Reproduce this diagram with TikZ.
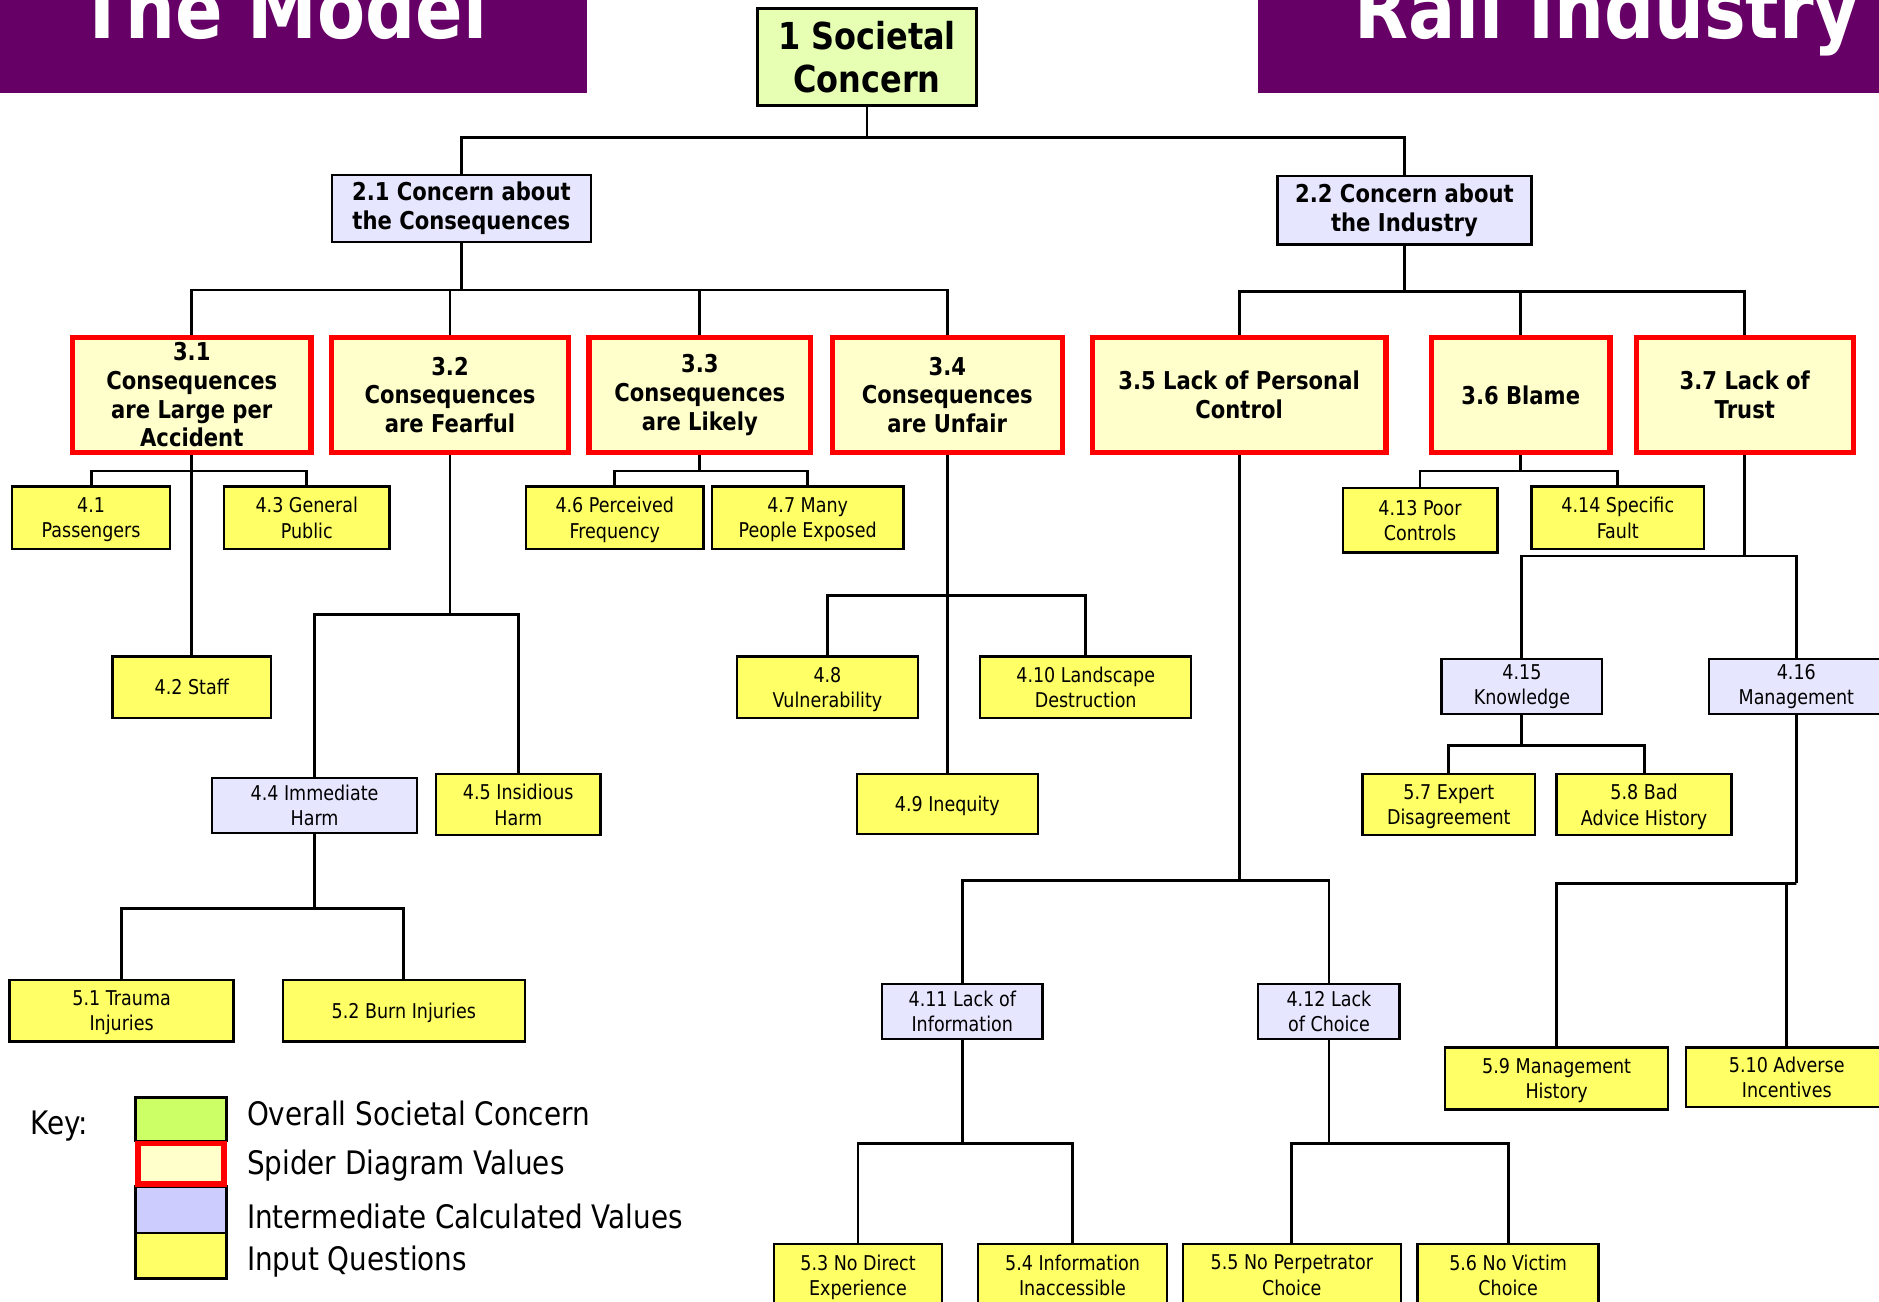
\documentclass[tikz,border=0pt]{standalone}
\usepackage{fontspec}
\setmainfont{DejaVu Sans}[FakeStretch=0.86]
\definecolor{ttl}{HTML}{660066}
\definecolor{topg}{HTML}{E6FFB3}
\definecolor{keyg}{HTML}{CCFF66}
\definecolor{lav}{HTML}{E6E6FF}
\definecolor{keylav}{HTML}{CCCCFF}
\definecolor{inyel}{HTML}{FFFF66}
\definecolor{spy}{HTML}{FFFFCC}
\pgfdeclarelayer{bg}
\pgfsetlayers{bg,main}
\tikzset{
 box/.style={draw=black, line width=2pt, inner sep=0pt, align=center, rectangle},
 inp/.style={box, fill=inyel, font=\fontsize{17}{21}\selectfont, text depth=0pt},
 mid/.style={box, fill=lav, font=\fontsize{17}{21}\selectfont},
 spider/.style={box, draw=red, line width=4.5pt, fill=spy, font=\bfseries\fontsize{20.5}{24}\selectfont},
 lvltwo/.style={box, fill=lav, font=\bfseries\fontsize{20.5}{24}\selectfont},
 topn/.style={box, fill=topg, font=\bfseries\fontsize{31}{36}\selectfont},
 conn/.style={line width=2.4pt, black},
 sz/.style 2 args={minimum width=#1pt, minimum height=#2pt},
 keytxt/.style={anchor=west, inner sep=0pt, font=\fontsize{27}{30}\selectfont},
 title/.style={anchor=base west, inner sep=0pt, text=white, font=\bfseries\fontsize{68}{70}\selectfont},
}
\begin{document}
\begin{tikzpicture}[x=1pt,y=-1pt]
\useasboundingbox (0,0) rectangle (1568,1086);
\clip (0,0) rectangle (1568,1086);
% title banners
\fill[ttl] (0,0) rectangle (490,78);
\fill[ttl] (1050,0) rectangle (1568,78);
\node[title] (t1) at (65,32) {The Model};
\node[title] (t2) at (1130,32) {Rail Industry};
% level 1, 2
\node[topn, sz={183}{81}] (n1) at (723.5,47.5) {1 Societal\\Concern};
\node[lvltwo, sz={216}{56}] (n21) at (385,174) {2.1 Concern about\\the Consequences};
\node[lvltwo, sz={212}{57}] (n22) at (1172,175.5) {2.2 Concern about\\the Industry};
% level 3
\node[spider, sz={199}{96}] (n31) at (160,329.5) {3.1\\Consequences\\are Large per\\Accident};
\node[spider, sz={198}{96}] (n32) at (375.5,329.5) {3.2\\Consequences\\are Fearful};
\node[spider, sz={185}{96}] (n33) at (584,329.5) {3.3\\Consequences\\are Likely};
\node[spider, sz={192}{96}] (n34) at (790.5,329.5) {3.4\\Consequences\\are Unfair};
\node[spider, sz={245}{96}] (n35) at (1034,329.5) {3.5 Lack of Personal\\Control};
\node[spider, sz={149}{96}] (n36) at (1269,329.5) {3.6 Blame};
\node[spider, sz={181}{96}] (n37) at (1456,329.5) {3.7 Lack of\\Trust};
% level 4
\node[inp, sz={132}{52}] (n41) at (76,432) {4.1\\Passengers};
\node[inp, sz={138}{52}] (n43) at (256,432) {4.3 General\\Public};
\node[inp, sz={132}{51}] (n42) at (160,573.5) {4.2 Staff};
\node[mid, sz={171}{46}] (n44) at (262.5,672) {4.4 Immediate\\Harm};
\node[inp, sz={137}{51}] (n45) at (432.5,671.5) {4.5 Insidious\\Harm};
\node[inp, sz={148}{52}] (n46) at (513,432) {4.6 Perceived\\Frequency};
\node[inp, sz={160}{52}] (n47) at (674,432) {4.7 Many\\People Exposed};
\node[inp, sz={151}{51}] (n48) at (690.5,573.5) {4.8\\Vulnerability};
\node[inp, sz={176}{51}] (n410) at (906,573.5) {4.10 Landscape\\Destruction};
\node[inp, sz={151}{50}] (n49) at (790.5,671) {4.9 Inequity};
\node[mid, sz={134}{46}] (n411) at (803,844) {4.11 Lack of\\Information};
\node[mid, sz={118}{46}] (n412) at (1109,844) {4.12 Lack\\of Choice};
\node[inp, sz={129}{54}] (n413) at (1185,434) {4.13 Poor\\Controls};
\node[inp, sz={144}{52}] (n414) at (1350,432) {4.14 Specific\\Fault};
\node[mid, sz={134}{46}] (n415) at (1270,573) {4.15\\Knowledge};
\node[mid, sz={146}{46}] (n416) at (1499,573) {4.16\\Management};
% level 5
\node[inp, sz={187}{51}] (n51) at (101.5,843.5) {5.1 Trauma\\Injuries};
\node[inp, sz={202}{51}] (n52) at (337,843.5) {5.2 Burn Injuries};
\node[inp, sz={140}{52}] (n53) at (716,1064) {5.3 No Direct\\Experience};
\node[inp, sz={158}{52}] (n54) at (895,1064) {5.4 Information\\Inaccessible};
\node[inp, sz={182}{52}] (n55) at (1078,1064) {5.5 No Perpetrator\\Choice};
\node[inp, sz={151}{52}] (n56) at (1258.5,1064) {5.6 No Victim\\Choice};
\node[inp, sz={144}{51}] (n57) at (1209,671.5) {5.7 Expert\\Disagreement};
\node[inp, sz={146}{51}] (n58) at (1372,671.5) {5.8 Bad\\Advice History};
\node[inp, sz={186}{52}] (n59) at (1299,900) {5.9 Management\\History};
\node[inp, sz={168}{50}] (n510) at (1491,899) {5.10 Adverse\\Incentives};
% connectors
\begin{pgfonlayer}{bg}
\coordinate (b1) at (n1.south |- 0,115);
\draw[conn] (n1.south) -- (b1);
\draw[conn] (n21.north) |- (b1) -| (n22.north);
\coordinate (b21) at (n21.south |- 0,242);
\draw[conn] (n21.south) -- (b21);
\draw[conn] (n31.north) |- (b21) -| (n34.north);
\draw[conn] (n32.north) -- (n32.north |- b21);
\draw[conn] (n33.north) -- (n33.north |- b21);
\coordinate (b22) at (n22.south |- 0,243);
\draw[conn] (n22.south) -- (b22);
\draw[conn] (n35.north) |- (b22) -| (n37.north);
\draw[conn] (n36.north) -- (n36.north |- b22);
\coordinate (b31) at (n31.south |- 0,393);
\draw[conn] (n31.south) -- (n42.north);
\draw[conn] (n41.north) |- (b31) -| (n43.north);
\coordinate (b32) at (n32.south |- 0,513);
\draw[conn] (n32.south) -- (b32);
\draw[conn] (n44.north) |- (b32) -| (n45.north);
\coordinate (b44) at (n44.south |- 0,758);
\draw[conn] (n44.south) -- (b44);
\draw[conn] (n51.north) |- (b44) -| (n52.north);
\coordinate (b33) at (n33.south |- 0,393);
\draw[conn] (n33.south) -- (b33);
\draw[conn] (n46.north) |- (b33) -| (n47.north);
\coordinate (b34) at (n34.south |- 0,497);
\draw[conn] (n34.south) -- (n49.north);
\draw[conn] (n48.north) |- (b34) -| (n410.north);
\coordinate (b35) at (n35.south |- 0,735);
\draw[conn] (n35.south) -- (b35);
\draw[conn] (n411.north) |- (b35) -| (n412.north);
\coordinate (b411) at (n411.south |- 0,954);
\draw[conn] (n411.south) -- (b411);
\draw[conn] (n53.north) |- (b411) -| (n54.north);
\coordinate (b412) at (n412.south |- 0,954);
\draw[conn] (n412.south) -- (b412);
\draw[conn] (n55.north) |- (b412) -| (n56.north);
\coordinate (b36) at (n36.south |- 0,393);
\draw[conn] (n36.south) -- (b36);
\draw[conn] (n413.north) |- (b36) -| (n414.north);
\coordinate (b37) at (n37.south |- 0,464);
\draw[conn] (n37.south) -- (b37);
\draw[conn] (n415.north) |- (b37) -| (n416.north);
\coordinate (b415) at (n415.south |- 0,622);
\draw[conn] (n415.south) -- (b415);
\draw[conn] (n57.north) |- (b415) -| (n58.north);
\coordinate (b416) at (n416.south |- 0,737);
\draw[conn] (n416.south) -- (b416);
\draw[conn] (n59.north) |- (b416) -| (n510.north);
\end{pgfonlayer}
% key
\node[keytxt] (key) at (25,940) {Key:};
\node[box, fill=keyg, sz={76}{36}] (k1) at (151,934) {};
\node[box, fill=keylav, sz={76}{39}] (k3) at (151,1009.5) {};
\node[box, fill=inyel, sz={76}{38}] (k4) at (151,1048) {};
\node[box, draw=red, line width=4.5pt, fill=spy, sz={72}{34}] (k2) at (151,971) {};
\node[keytxt] (l1) at (206,929) {Overall Societal Concern};
\node[keytxt] (l2) at (206,973) {Spider Diagram Values};
\node[keytxt] (l3) at (206,1015) {Intermediate Calculated Values};
\node[keytxt] (l4) at (206,1053) {Input Questions};
\end{tikzpicture}
\end{document}
